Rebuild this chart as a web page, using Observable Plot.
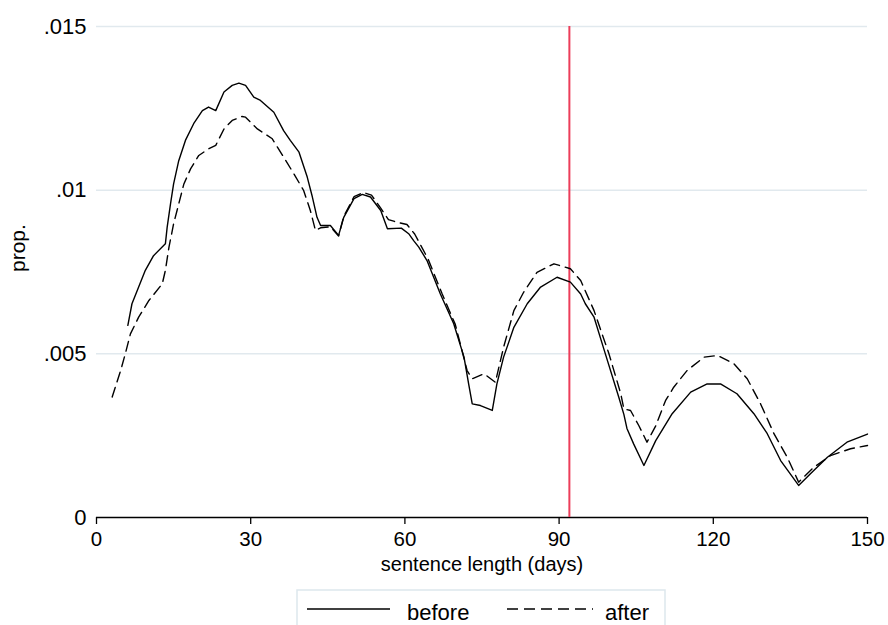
<!DOCTYPE html>
<html><head><meta charset="utf-8">
<script src="https://cdn.jsdelivr.net/npm/d3@7"></script>
<script src="https://cdn.jsdelivr.net/npm/@observablehq/plot@0.6"></script>
<style>
body{margin:0;background:#fff;font-family:"Liberation Sans",Arial,sans-serif;}
#chart{position:relative;width:888px;height:625px;overflow:hidden;background:#fff;}
#chart svg{display:block;}
#legend{position:absolute;left:0;top:588px;}
</style></head><body><div id="chart"></div>
<script>
// sentence length (days) and proportion, "before" series (solid)
const beforeX = [6.1,6.9,8.2,9.5,11.1,13.4,13.75,14.4,15.0,16.0,17.3,18.9,20.6,21.8,23.2,24.8,26.4,27.7,29.0,30.6,31.9,34.5,36.4,37.7,39.4,41.0,42.0,42.9,43.6,45.5,47.1,48.1,50.1,51.7,53.3,55.3,56.6,59.3,60.8,61.7,62.7,64.3,66.9,69.5,71.5,72.4,73.1,74.7,77.0,77.9,79.2,81.2,83.8,86.4,89.6,92.2,94.2,95.1,96.8,99.0,101.6,102.6,103.2,104.5,106.5,108.8,112.0,115.6,118.8,121.4,124.6,127.9,130.5,133.1,136.6,138.9,142.2,146.0,150.0];
const beforeY = [5.87,6.53,7.04,7.55,8.0,8.36,8.87,9.58,10.19,10.9,11.52,12.03,12.43,12.54,12.43,13.0,13.2,13.27,13.2,12.84,12.74,12.38,11.82,11.52,11.16,10.40,9.79,9.17,8.92,8.92,8.62,9.17,9.74,9.87,9.79,9.38,8.82,8.84,8.66,8.46,8.26,7.85,6.83,5.92,4.90,4.08,3.47,3.42,3.27,4.08,4.90,5.81,6.53,7.04,7.34,7.19,6.83,6.53,6.12,5.0,3.68,3.15,2.72,2.25,1.59,2.35,3.17,3.83,4.08,4.08,3.78,3.17,2.56,1.74,0.98,1.34,1.84,2.30,2.55];
// "after" series (dashed)
const afterX = [3.05,4.7,5.6,6.6,8.2,10.2,12.8,13.4,14.1,15.0,16.0,17.0,18.3,19.9,21.8,23.2,24.8,26.4,28.3,29.0,30.3,31.3,34.2,36.4,38.4,40.3,41.6,42.6,43.6,45.5,47.1,48.1,50.1,51.9,53.5,55.3,56.8,58.5,60.4,61.9,64.5,67.2,69.8,72.1,73.1,75.4,77.6,79.2,81.2,83.1,85.7,89.0,92.2,94.2,96.8,99.7,102.0,102.6,103.9,105.5,107.1,108.8,110.7,112.3,114.9,118.2,120.8,124.0,126.6,129.2,131.8,134.4,136.6,139.6,142.8,146.7,150.0];
const afterY = [3.68,4.49,5.0,5.61,6.12,6.63,7.14,7.55,8.26,8.97,9.58,10.19,10.65,11.06,11.26,11.37,11.87,12.13,12.25,12.23,12.03,11.87,11.57,11.01,10.50,9.99,9.38,8.77,8.85,8.88,8.6,9.2,9.8,9.93,9.85,9.45,9.1,9.02,8.95,8.66,7.9,6.85,5.9,4.49,4.24,4.39,4.13,5.20,6.32,6.88,7.49,7.75,7.60,7.24,6.32,5.0,3.78,3.32,3.27,2.81,2.30,2.8,3.57,3.98,4.49,4.90,4.95,4.70,4.24,3.47,2.56,1.84,1.08,1.54,1.89,2.10,2.20];
const xTicks = [0,30,60,90,120,150];
const yTicks = [0,0.005,0.01,0.015];
const yTickLabels = ["0",".005",".01",".015"];
const cutoff = [92];
const xLabel = ["sentence length (days)"];
const yLabel = ["prop."];
const seriesNames = ["before","after"];

const before = beforeX.map((x,i)=>({x, y: beforeY[i]/1000}));
const after = afterX.map((x,i)=>({x, y: afterY[i]/1000}));
const font = '"Liberation Sans", Arial, sans-serif';

const plot = Plot.plot({
  width: 888, height: 588,
  marginLeft: 96, marginRight: 21, marginTop: 26, marginBottom: 71,
  style: {fontFamily: font, fontSize: "22px", color: "#000", background: "#fff"},
  x: {domain: [0,150]},
  y: {domain: [0,0.015]},
  marks: [
    Plot.gridY(yTicks.filter(d=>d>0), {stroke:"#e1e9ee", strokeOpacity:1, strokeWidth:1.5}),
    Plot.axisY(yTicks, {tickSize:0, tickPadding:10, tickFormat:(d)=>yTickLabels[yTicks.indexOf(d)], fontSize:22, label:null}),
    Plot.axisX(xTicks, {tickSize:7, tickPadding:7, fontSize:20.5, label:null, strokeWidth:1.3}),
    Plot.ruleY([0], {stroke:"#000", strokeWidth:1.5}),
    Plot.ruleX(cutoff, {y1:0, y2:0.015, stroke:"#ec3d5a", strokeWidth:2}),
    Plot.line(before, {x:"x", y:"y", stroke:"#000", strokeWidth:1.4}),
    Plot.line(after, {x:"x", y:"y", stroke:"#000", strokeWidth:1.4, strokeDasharray:"10,6"}),
    Plot.text(xLabel, {frameAnchor:"bottom", dy:53, fontSize:20}),
    Plot.text(yLabel, {frameAnchor:"left", dx:-78, rotate:-90, fontSize:21})
  ]
});
const chart = document.getElementById("chart");
chart.appendChild(plot);

// legend below the plot
const leg = d3.select(chart).append("svg").attr("id","legend")
  .attr("width",888).attr("height",37)
  .style("font-family", font).style("font-size","22px");
leg.append("rect").attr("x",297).attr("y",2).attr("width",368).attr("height",60)
  .attr("fill","#fff").attr("stroke","#dde7ed").attr("stroke-width",1.5);
leg.append("line").attr("x1",307).attr("x2",390).attr("y1",21).attr("y2",21)
  .attr("stroke","#000").attr("stroke-width",1.4);
leg.append("text").attr("x",407).attr("y",32).text(seriesNames[0]);
leg.append("line").attr("x1",507).attr("x2",593).attr("y1",21).attr("y2",21)
  .attr("stroke","#000").attr("stroke-width",1.4).attr("stroke-dasharray","11,6");
leg.append("text").attr("x",605).attr("y",32).text(seriesNames[1]);
</script></body></html>
